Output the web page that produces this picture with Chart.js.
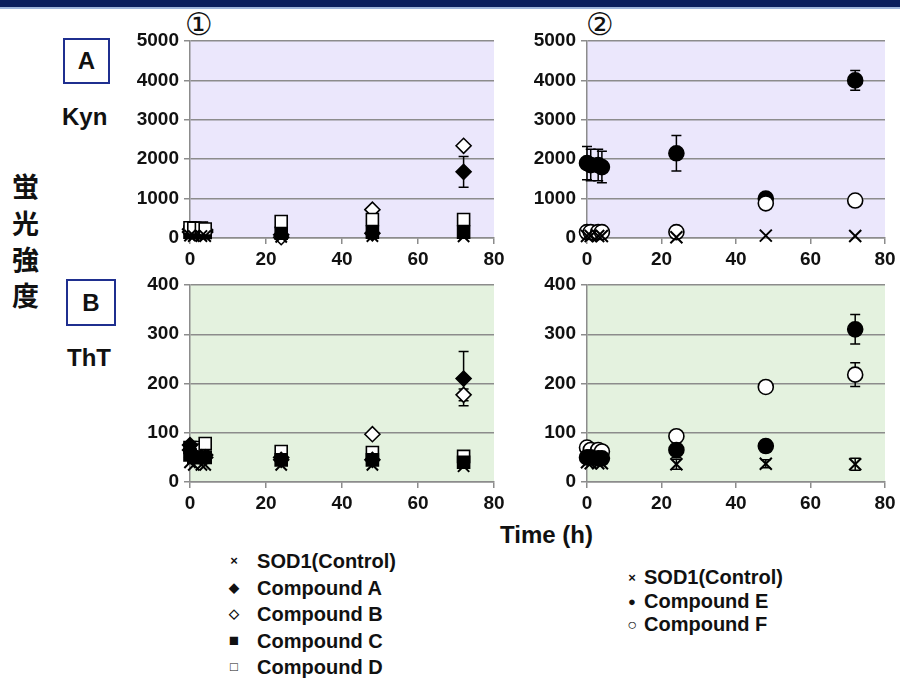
<!DOCTYPE html>
<html>
<head>
<meta charset="utf-8">
<script src="https://cdn.jsdelivr.net/npm/chart.js@4.4.0/dist/chart.umd.min.js"></script>
<style>
  body { margin: 0; background: #fff; }
  #wrap { position: relative; width: 900px; height: 680px; overflow: hidden; font-family: "Liberation Sans", Arial, sans-serif; color: #111; }
  #band { position: absolute; left: 0; top: 0; width: 900px; height: 7px; background: #0b1f5e; border-bottom: 2px solid #9fb6dc; }
  canvas { position: absolute; }
  .lbl { position: absolute; font-weight: bold; white-space: nowrap; }
  .box { position: absolute; border: 2px solid #1f2f8f; box-sizing: border-box; font-weight: bold; font-size: 24px; text-align: center; background: #fff; }
  .cjk { position: absolute; font-family: "Noto Sans CJK JP", sans-serif; font-weight: bold; font-size: 27px; line-height: 1; }
  .leg { position: absolute; font-weight: bold; font-size: 20px; white-space: nowrap; }
  .leg div { height: 26.5px; line-height: 26px; }
  .mk { display: inline-block; width: 24px; text-align: center; font-size: 13px; vertical-align: top; }
</style>
</head>
<body>
<div id="wrap">
  <div id="band"></div>
  <div class="lbl" style="left:185px;top:6px;font-size:31px;font-weight:normal;font-family:'DejaVu Sans',sans-serif;">①</div>
  <div class="lbl" style="left:586px;top:6px;font-size:31px;font-weight:normal;font-family:'DejaVu Sans',sans-serif;">②</div>
  <div class="box" style="left:63px;top:38px;width:47px;height:46px;line-height:42px;">A</div>
  <div class="lbl" style="left:62px;top:103px;font-size:24px;">Kyn</div>
  <div class="box" style="left:66px;top:279px;width:50px;height:47px;line-height:43px;">B</div>
  <div class="lbl" style="left:67px;top:344px;font-size:24px;">ThT</div>
  <div class="cjk" style="left:12px;top:172px;">蛍</div>
  <div class="cjk" style="left:12px;top:209px;">光</div>
  <div class="cjk" style="left:12px;top:245px;">強</div>
  <div class="cjk" style="left:12px;top:281px;">度</div>
  <div class="lbl" style="left:500px;top:521px;font-size:24px;">Time (h)</div>

  <canvas id="c1a" width="396" height="244" style="left:112px;top:26px;"></canvas>
  <canvas id="c2a" width="390" height="244" style="left:509px;top:26px;"></canvas>
  <canvas id="c1b" width="396" height="244" style="left:112px;top:270px;"></canvas>
  <canvas id="c2b" width="390" height="244" style="left:509px;top:270px;"></canvas>

  <div class="leg" style="left:222px;top:548px;">
    <div><span class="mk">×</span>&nbsp;&nbsp;SOD1(Control)</div>
    <div><span class="mk">◆</span>&nbsp;&nbsp;Compound A</div>
    <div><span class="mk">◇</span>&nbsp;&nbsp;Compound B</div>
    <div><span class="mk" style="font-size:17px;">■</span>&nbsp;&nbsp;Compound C</div>
    <div><span class="mk">□</span>&nbsp;&nbsp;Compound D</div>
  </div>
  <div class="leg" style="left:620px;top:566px;">
    <div style="height:23.5px;line-height:23px;"><span class="mk">×</span>SOD1(Control)</div>
    <div style="height:23.5px;line-height:23px;"><span class="mk">●</span>Compound E</div>
    <div style="height:23.5px;line-height:23px;"><span class="mk" style="font-size:16px;">○</span>Compound F</div>
  </div>
</div>

<script>
// sampling times (h)
const times = [0, 1, 3, 4, 24, 48, 72];

// Kyn, panel 1
const kynSod1 = [60, 50, 50, 50, 30, 50, 40];
const kynA = [150, 150, 150, 150, 80, 120, 1680];
const kynAErr = [0, 0, 0, 0, 0, 0, 390];
const kynB = [220, 200, 200, 200, 20, 720, 2340];
const kynC = [150, 140, 140, 140, 120, 150, 150];
const kynD = [260, 250, 250, 230, 420, 470, 470];

// Kyn, panel 2
const kyn2Sod1 = [50, 50, 50, 50, 20, 60, 50];
const kynE = [1900, 1850, 1850, 1800, 2150, 1000, 4000];
const kynEErr = [420, 400, 400, 400, 450, 150, 250];
const kynF = [150, 150, 150, 150, 150, 880, 950];

// ThT, panel 1
const thtSod1 = [40, 35, 35, 35, 35, 35, 32];
const thtA = [75, 55, 50, 50, 45, 45, 210];
const thtAErr = [0, 0, 0, 0, 0, 0, 55];
const thtB = [65, 60, 60, 55, 50, 97, 177];
const thtBErr = [0, 0, 0, 0, 0, 0, 12];
const thtC = [55, 50, 50, 50, 45, 45, 40];
const thtD = [70, 70, 65, 78, 62, 60, 52];

// ThT, panel 2
const tht2Sod1 = [40, 38, 38, 38, 36, 37, 36];
const tht2Sod1Err = [0, 0, 0, 0, 10, 8, 12];
const thtE = [50, 50, 48, 48, 65, 73, 310];
const thtEErr = [0, 0, 0, 0, 15, 12, 30];
const thtF = [70, 65, 65, 62, 93, 193, 218];
const thtFErr = [0, 0, 0, 0, 0, 0, 24];

const xTicks = [0, 20, 40, 60, 80];
const kynTicks = [0, 1000, 2000, 3000, 4000, 5000];
const thtTicks = [0, 100, 200, 300, 400];

function pts(vals) {
    return vals.map(function (v, i) { return { x: times[i], y: v }; });
}

function series(label, vals, style, filled, radius, err) {
    return {
        label: label,
        data: pts(vals),
        err: err || null,
        clip: false,
        showLine: false,
        pointStyle: style,
        pointRadius: radius,
        pointHoverRadius: radius,
        pointBackgroundColor: filled ? "#000" : "#fff",
        pointBorderColor: "#000",
        pointBorderWidth: style === "crossRot" ? 2 : 1.6,
    };
}

// plot background and error bars
const panelPlugin = {
    id: "panel",
    beforeDraw: function (chart, args, opts) {
        const a = chart.chartArea;
        const ctx = chart.ctx;
        ctx.save();
        ctx.fillStyle = opts.bg;
        ctx.fillRect(a.left, a.top, a.right - a.left, a.bottom - a.top);
        ctx.restore();
    },
    beforeDatasetsDraw: function (chart) {
        const ctx = chart.ctx;
        const xs = chart.scales.x, ys = chart.scales.y;
        ctx.save();
        ctx.strokeStyle = "#000";
        ctx.lineWidth = 1.5;
        chart.data.datasets.forEach(function (ds) {
            if (!ds.err) return;
            ds.data.forEach(function (p, i) {
                const e = ds.err[i];
                if (!e) return;
                const px = xs.getPixelForValue(p.x);
                const top = ys.getPixelForValue(p.y + e);
                const bot = ys.getPixelForValue(p.y - e);
                ctx.beginPath();
                ctx.moveTo(px, top); ctx.lineTo(px, bot);
                ctx.moveTo(px - 5, top); ctx.lineTo(px + 5, top);
                ctx.moveTo(px - 5, bot); ctx.lineTo(px + 5, bot);
                ctx.stroke();
            });
        });
        ctx.restore();
    },
};

function makeChart(id, datasets, yMax, yTicks, bg) {
    const tickFont = { family: "'Liberation Sans', Arial, sans-serif", size: 19, weight: "bold" };
    return new Chart(document.getElementById(id), {
        type: "scatter",
        data: { datasets: datasets },
        plugins: [panelPlugin],
        options: {
            responsive: false,
            animation: false,
            layout: { padding: { top: 15, right: 14, left: 0, bottom: 0 } },
            plugins: {
                legend: { display: false },
                tooltip: { enabled: false },
                panel: { bg: bg },
            },
            scales: {
                x: {
                    type: "linear",
                    min: 0,
                    max: 80,
                    afterBuildTicks: function (s) { s.ticks = xTicks.map(function (v) { return { value: v }; }); },
                    afterFit: function (s) { s.height = 32; s.paddingLeft = 0; s.paddingRight = 0; },
                    grid: { drawOnChartArea: false, drawTicks: true, tickLength: 6, color: "#8c8c8c", lineWidth: 1.5 },
                    border: { color: "#8c8c8c", width: 1.5 },
                    ticks: { color: "#111", font: tickFont, padding: 4, maxRotation: 0, callback: function (v) { return String(v); } },
                },
                y: {
                    min: 0,
                    max: yMax,
                    afterBuildTicks: function (s) { s.ticks = yTicks.map(function (v) { return { value: v }; }); },
                    afterFit: function (s) { s.width = 78; s.paddingTop = 0; s.paddingBottom = 0; },
                    grid: { drawTicks: true, tickLength: 6, color: "#8c8c8c", lineWidth: 1.5 },
                    border: { color: "#8c8c8c", width: 1.5 },
                    ticks: { color: "#111", font: tickFont, padding: 5, callback: function (v) { return String(v); } },
                },
            },
        },
    });
}

const lavender = "#ebe7fc";
const mint = "#e4f2df";

// note: chart.js paints dataset 0 last, so earlier entries sit on top
makeChart("c1a", [
    series("SOD1(Control)", kynSod1, "crossRot", true, 8),
    series("Compound D", kynD, "rect", false, 8.5),
    series("Compound C", kynC, "rect", true, 8.5),
    series("Compound B", kynB, "rectRot", false, 7.5),
    series("Compound A", kynA, "rectRot", true, 7.5, kynAErr),
], 5000, kynTicks, lavender);

makeChart("c2a", [
    series("SOD1(Control)", kyn2Sod1, "crossRot", true, 8.5),
    series("Compound F", kynF, "circle", false, 7.5),
    series("Compound E", kynE, "circle", true, 7.5, kynEErr),
], 5000, kynTicks, lavender);

makeChart("c1b", [
    series("SOD1(Control)", thtSod1, "crossRot", true, 8),
    series("Compound C", thtC, "rect", true, 8.5),
    series("Compound A", thtA, "rectRot", true, 7.5, thtAErr),
    series("Compound D", thtD, "rect", false, 8.5),
    series("Compound B", thtB, "rectRot", false, 7.5, thtBErr),
], 400, thtTicks, mint);

makeChart("c2b", [
    series("SOD1(Control)", tht2Sod1, "crossRot", true, 8.5, tht2Sod1Err),
    series("Compound E", thtE, "circle", true, 7.5, thtEErr),
    series("Compound F", thtF, "circle", false, 7.5, thtFErr),
], 400, thtTicks, mint);
</script>
</body>
</html>
